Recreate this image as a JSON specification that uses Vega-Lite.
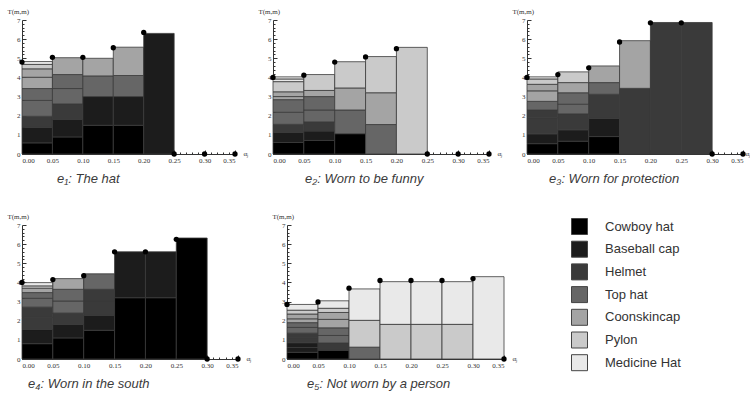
{
  "$schema": "https://vega.github.io/schema/vega-lite/v6.json",
  "padding": {"left": 7, "top": 7, "right": 0, "bottom": 0},
  "background": "white",
  "config": {
    "view": {"stroke": null},
    "axis": {"grid": false, "labelFont": "Liberation Serif", "labelFontSize": 7, "labelColor": "#333", "domainColor": "#333", "tickColor": "#333", "titleFont": "Liberation Serif", "titleFontSize": 7, "titleFontWeight": "normal", "titleColor": "#333", "labelPadding": 6},
    "title": {"orient": "bottom", "anchor": "start", "font": "Liberation Sans", "fontSize": 13, "fontStyle": "italic", "fontWeight": "normal", "color": "#3a3a3a", "offset": 10},
    "legend": {"orient": "none", "legendX": 549, "legendY": 198, "title": null, "symbolType": "square", "symbolSize": 256, "symbolStrokeColor": "#444", "symbolStrokeWidth": 1, "labelFont": "Liberation Sans", "labelFontSize": 13, "labelColor": "#333", "rowPadding": 1.7, "labelOffset": 17, "padding": 0}
  },
  "datasets": {
    "bars": [
      {"p":1,"x0":0,"x1":0.05,"y0":0,"y1":0.58,"hat":"Cowboy hat"},
      {"p":1,"x0":0,"x1":0.05,"y0":0.58,"y1":1.4,"hat":"Baseball cap"},
      {"p":1,"x0":0,"x1":0.05,"y0":1.4,"y1":1.97,"hat":"Helmet"},
      {"p":1,"x0":0,"x1":0.05,"y0":1.97,"y1":2.8,"hat":"Top hat"},
      {"p":1,"x0":0,"x1":0.05,"y0":2.8,"y1":3.42,"hat":"Top hat"},
      {"p":1,"x0":0,"x1":0.05,"y0":3.42,"y1":4.01,"hat":"Coonskincap"},
      {"p":1,"x0":0,"x1":0.05,"y0":4.01,"y1":4.45,"hat":"Coonskincap"},
      {"p":1,"x0":0,"x1":0.05,"y0":4.45,"y1":4.68,"hat":"Pylon"},
      {"p":1,"x0":0,"x1":0.05,"y0":4.68,"y1":4.83,"hat":"Medicine Hat"},
      {"p":1,"x0":0.05,"x1":0.1,"y0":0,"y1":0.89,"hat":"Cowboy hat"},
      {"p":1,"x0":0.05,"x1":0.1,"y0":0.89,"y1":1.8,"hat":"Baseball cap"},
      {"p":1,"x0":0.05,"x1":0.1,"y0":1.8,"y1":2.62,"hat":"Helmet"},
      {"p":1,"x0":0.05,"x1":0.1,"y0":2.62,"y1":3.42,"hat":"Top hat"},
      {"p":1,"x0":0.05,"x1":0.1,"y0":3.42,"y1":4.15,"hat":"Top hat"},
      {"p":1,"x0":0.05,"x1":0.1,"y0":4.15,"y1":5.03,"hat":"Coonskincap"},
      {"p":1,"x0":0.1,"x1":0.15,"y0":0,"y1":1.5,"hat":"Cowboy hat"},
      {"p":1,"x0":0.1,"x1":0.15,"y0":1.5,"y1":3.0,"hat":"Baseball cap"},
      {"p":1,"x0":0.1,"x1":0.15,"y0":3.0,"y1":4.08,"hat":"Top hat"},
      {"p":1,"x0":0.1,"x1":0.15,"y0":4.08,"y1":5.0,"hat":"Coonskincap"},
      {"p":1,"x0":0.15,"x1":0.2,"y0":0,"y1":1.5,"hat":"Cowboy hat"},
      {"p":1,"x0":0.15,"x1":0.2,"y0":1.5,"y1":3.0,"hat":"Baseball cap"},
      {"p":1,"x0":0.15,"x1":0.2,"y0":3.0,"y1":4.1,"hat":"Top hat"},
      {"p":1,"x0":0.15,"x1":0.2,"y0":4.1,"y1":5.58,"hat":"Coonskincap"},
      {"p":1,"x0":0.2,"x1":0.25,"y0":0,"y1":6.3,"hat":"Baseball cap"},

      {"p":2,"x0":0,"x1":0.05,"y0":0,"y1":0.6,"hat":"Cowboy hat"},
      {"p":2,"x0":0,"x1":0.05,"y0":0.6,"y1":1.12,"hat":"Baseball cap"},
      {"p":2,"x0":0,"x1":0.05,"y0":1.12,"y1":1.55,"hat":"Helmet"},
      {"p":2,"x0":0,"x1":0.05,"y0":1.55,"y1":2.18,"hat":"Top hat"},
      {"p":2,"x0":0,"x1":0.05,"y0":2.18,"y1":2.84,"hat":"Top hat"},
      {"p":2,"x0":0,"x1":0.05,"y0":2.84,"y1":3.0,"hat":"Coonskincap"},
      {"p":2,"x0":0,"x1":0.05,"y0":3.0,"y1":3.25,"hat":"Coonskincap"},
      {"p":2,"x0":0,"x1":0.05,"y0":3.25,"y1":3.78,"hat":"Pylon"},
      {"p":2,"x0":0,"x1":0.05,"y0":3.78,"y1":3.92,"hat":"Medicine Hat"},
      {"p":2,"x0":0,"x1":0.05,"y0":3.92,"y1":4.03,"hat":"Medicine Hat"},
      {"p":2,"x0":0.05,"x1":0.1,"y0":0,"y1":0.71,"hat":"Cowboy hat"},
      {"p":2,"x0":0.05,"x1":0.1,"y0":0.71,"y1":1.2,"hat":"Baseball cap"},
      {"p":2,"x0":0.05,"x1":0.1,"y0":1.2,"y1":1.68,"hat":"Helmet"},
      {"p":2,"x0":0.05,"x1":0.1,"y0":1.68,"y1":2.3,"hat":"Top hat"},
      {"p":2,"x0":0.05,"x1":0.1,"y0":2.3,"y1":3.0,"hat":"Top hat"},
      {"p":2,"x0":0.05,"x1":0.1,"y0":3.0,"y1":3.32,"hat":"Coonskincap"},
      {"p":2,"x0":0.05,"x1":0.1,"y0":3.32,"y1":4.15,"hat":"Pylon"},
      {"p":2,"x0":0.1,"x1":0.15,"y0":0,"y1":1.06,"hat":"Cowboy hat"},
      {"p":2,"x0":0.1,"x1":0.15,"y0":1.06,"y1":2.3,"hat":"Top hat"},
      {"p":2,"x0":0.1,"x1":0.15,"y0":2.3,"y1":3.45,"hat":"Coonskincap"},
      {"p":2,"x0":0.1,"x1":0.15,"y0":3.45,"y1":4.82,"hat":"Pylon"},
      {"p":2,"x0":0.15,"x1":0.2,"y0":0,"y1":1.54,"hat":"Top hat"},
      {"p":2,"x0":0.15,"x1":0.2,"y0":1.54,"y1":3.2,"hat":"Coonskincap"},
      {"p":2,"x0":0.15,"x1":0.2,"y0":3.2,"y1":5.09,"hat":"Pylon"},
      {"p":2,"x0":0.2,"x1":0.25,"y0":0,"y1":5.57,"hat":"Pylon"},

      {"p":3,"x0":0,"x1":0.05,"y0":0,"y1":0.54,"hat":"Cowboy hat"},
      {"p":3,"x0":0,"x1":0.05,"y0":0.54,"y1":1.05,"hat":"Baseball cap"},
      {"p":3,"x0":0,"x1":0.05,"y0":1.05,"y1":1.9,"hat":"Helmet"},
      {"p":3,"x0":0,"x1":0.05,"y0":1.9,"y1":2.3,"hat":"Helmet"},
      {"p":3,"x0":0,"x1":0.05,"y0":2.3,"y1":2.75,"hat":"Top hat"},
      {"p":3,"x0":0,"x1":0.05,"y0":2.75,"y1":3.3,"hat":"Coonskincap"},
      {"p":3,"x0":0,"x1":0.05,"y0":3.3,"y1":3.64,"hat":"Coonskincap"},
      {"p":3,"x0":0,"x1":0.05,"y0":3.64,"y1":3.92,"hat":"Pylon"},
      {"p":3,"x0":0,"x1":0.05,"y0":3.92,"y1":4.03,"hat":"Medicine Hat"},
      {"p":3,"x0":0.05,"x1":0.1,"y0":0,"y1":0.67,"hat":"Cowboy hat"},
      {"p":3,"x0":0.05,"x1":0.1,"y0":0.67,"y1":1.26,"hat":"Baseball cap"},
      {"p":3,"x0":0.05,"x1":0.1,"y0":1.26,"y1":2.1,"hat":"Helmet"},
      {"p":3,"x0":0.05,"x1":0.1,"y0":2.1,"y1":2.6,"hat":"Top hat"},
      {"p":3,"x0":0.05,"x1":0.1,"y0":2.6,"y1":3.2,"hat":"Top hat"},
      {"p":3,"x0":0.05,"x1":0.1,"y0":3.2,"y1":3.73,"hat":"Coonskincap"},
      {"p":3,"x0":0.05,"x1":0.1,"y0":3.73,"y1":4.29,"hat":"Pylon"},
      {"p":3,"x0":0.1,"x1":0.15,"y0":0,"y1":0.91,"hat":"Cowboy hat"},
      {"p":3,"x0":0.1,"x1":0.15,"y0":0.91,"y1":1.87,"hat":"Baseball cap"},
      {"p":3,"x0":0.1,"x1":0.15,"y0":1.87,"y1":3.12,"hat":"Helmet"},
      {"p":3,"x0":0.1,"x1":0.15,"y0":3.12,"y1":3.73,"hat":"Top hat"},
      {"p":3,"x0":0.1,"x1":0.15,"y0":3.73,"y1":4.6,"hat":"Coonskincap"},
      {"p":3,"x0":0.15,"x1":0.2,"y0":0,"y1":3.43,"hat":"Helmet"},
      {"p":3,"x0":0.15,"x1":0.2,"y0":3.43,"y1":5.92,"hat":"Coonskincap"},
      {"p":3,"x0":0.2,"x1":0.25,"y0":0,"y1":6.87,"hat":"Helmet"},
      {"p":3,"x0":0.25,"x1":0.3,"y0":0,"y1":6.87,"hat":"Helmet"},

      {"p":4,"x0":0,"x1":0.05,"y0":0,"y1":0.8,"hat":"Cowboy hat"},
      {"p":4,"x0":0,"x1":0.05,"y0":0.8,"y1":1.54,"hat":"Baseball cap"},
      {"p":4,"x0":0,"x1":0.05,"y0":1.54,"y1":2.17,"hat":"Helmet"},
      {"p":4,"x0":0,"x1":0.05,"y0":2.17,"y1":2.71,"hat":"Helmet"},
      {"p":4,"x0":0,"x1":0.05,"y0":2.71,"y1":3.17,"hat":"Top hat"},
      {"p":4,"x0":0,"x1":0.05,"y0":3.17,"y1":3.47,"hat":"Top hat"},
      {"p":4,"x0":0,"x1":0.05,"y0":3.47,"y1":3.7,"hat":"Coonskincap"},
      {"p":4,"x0":0,"x1":0.05,"y0":3.7,"y1":3.82,"hat":"Pylon"},
      {"p":4,"x0":0,"x1":0.05,"y0":3.82,"y1":3.99,"hat":"Medicine Hat"},
      {"p":4,"x0":0.05,"x1":0.1,"y0":0,"y1":1.1,"hat":"Cowboy hat"},
      {"p":4,"x0":0.05,"x1":0.1,"y0":1.1,"y1":1.8,"hat":"Baseball cap"},
      {"p":4,"x0":0.05,"x1":0.1,"y0":1.8,"y1":2.4,"hat":"Helmet"},
      {"p":4,"x0":0.05,"x1":0.1,"y0":2.4,"y1":3.03,"hat":"Top hat"},
      {"p":4,"x0":0.05,"x1":0.1,"y0":3.03,"y1":3.64,"hat":"Top hat"},
      {"p":4,"x0":0.05,"x1":0.1,"y0":3.64,"y1":4.2,"hat":"Coonskincap"},
      {"p":4,"x0":0.1,"x1":0.15,"y0":0,"y1":1.5,"hat":"Cowboy hat"},
      {"p":4,"x0":0.1,"x1":0.15,"y0":1.5,"y1":2.28,"hat":"Baseball cap"},
      {"p":4,"x0":0.1,"x1":0.15,"y0":2.28,"y1":3.03,"hat":"Helmet"},
      {"p":4,"x0":0.1,"x1":0.15,"y0":3.03,"y1":3.64,"hat":"Helmet"},
      {"p":4,"x0":0.1,"x1":0.15,"y0":3.64,"y1":4.45,"hat":"Top hat"},
      {"p":4,"x0":0.15,"x1":0.2,"y0":0,"y1":3.2,"hat":"Cowboy hat"},
      {"p":4,"x0":0.15,"x1":0.2,"y0":3.2,"y1":5.6,"hat":"Baseball cap"},
      {"p":4,"x0":0.2,"x1":0.25,"y0":0,"y1":3.2,"hat":"Cowboy hat"},
      {"p":4,"x0":0.2,"x1":0.25,"y0":3.2,"y1":5.6,"hat":"Baseball cap"},
      {"p":4,"x0":0.25,"x1":0.3,"y0":0,"y1":6.32,"hat":"Cowboy hat"},

      {"p":5,"x0":0,"x1":0.05,"y0":0,"y1":0.35,"hat":"Cowboy hat"},
      {"p":5,"x0":0,"x1":0.05,"y0":0.35,"y1":0.6,"hat":"Baseball cap"},
      {"p":5,"x0":0,"x1":0.05,"y0":0.6,"y1":0.85,"hat":"Baseball cap"},
      {"p":5,"x0":0,"x1":0.05,"y0":0.85,"y1":1.1,"hat":"Helmet"},
      {"p":5,"x0":0,"x1":0.05,"y0":1.1,"y1":1.35,"hat":"Helmet"},
      {"p":5,"x0":0,"x1":0.05,"y0":1.35,"y1":1.65,"hat":"Top hat"},
      {"p":5,"x0":0,"x1":0.05,"y0":1.65,"y1":1.9,"hat":"Top hat"},
      {"p":5,"x0":0,"x1":0.05,"y0":1.9,"y1":2.1,"hat":"Coonskincap"},
      {"p":5,"x0":0,"x1":0.05,"y0":2.1,"y1":2.35,"hat":"Coonskincap"},
      {"p":5,"x0":0,"x1":0.05,"y0":2.35,"y1":2.55,"hat":"Pylon"},
      {"p":5,"x0":0,"x1":0.05,"y0":2.55,"y1":2.85,"hat":"Medicine Hat"},
      {"p":5,"x0":0.05,"x1":0.1,"y0":0,"y1":0.46,"hat":"Cowboy hat"},
      {"p":5,"x0":0.05,"x1":0.1,"y0":0.46,"y1":0.84,"hat":"Helmet"},
      {"p":5,"x0":0.05,"x1":0.1,"y0":0.84,"y1":1.23,"hat":"Top hat"},
      {"p":5,"x0":0.05,"x1":0.1,"y0":1.23,"y1":1.63,"hat":"Top hat"},
      {"p":5,"x0":0.05,"x1":0.1,"y0":1.63,"y1":2.07,"hat":"Coonskincap"},
      {"p":5,"x0":0.05,"x1":0.1,"y0":2.07,"y1":2.43,"hat":"Coonskincap"},
      {"p":5,"x0":0.05,"x1":0.1,"y0":2.43,"y1":2.65,"hat":"Pylon"},
      {"p":5,"x0":0.05,"x1":0.1,"y0":2.65,"y1":3.04,"hat":"Medicine Hat"},
      {"p":5,"x0":0.1,"x1":0.15,"y0":0,"y1":0.62,"hat":"Top hat"},
      {"p":5,"x0":0.1,"x1":0.15,"y0":0.62,"y1":2.02,"hat":"Pylon"},
      {"p":5,"x0":0.1,"x1":0.15,"y0":2.02,"y1":3.66,"hat":"Medicine Hat"},
      {"p":5,"x0":0.15,"x1":0.2,"y0":0,"y1":1.81,"hat":"Pylon"},
      {"p":5,"x0":0.15,"x1":0.2,"y0":1.81,"y1":4.04,"hat":"Medicine Hat"},
      {"p":5,"x0":0.2,"x1":0.25,"y0":0,"y1":1.81,"hat":"Pylon"},
      {"p":5,"x0":0.2,"x1":0.25,"y0":1.81,"y1":4.04,"hat":"Medicine Hat"},
      {"p":5,"x0":0.25,"x1":0.3,"y0":0,"y1":1.81,"hat":"Pylon"},
      {"p":5,"x0":0.25,"x1":0.3,"y0":1.81,"y1":4.04,"hat":"Medicine Hat"},
      {"p":5,"x0":0.3,"x1":0.35,"y0":0,"y1":4.3,"hat":"Medicine Hat"}
    ],
    "pts": [
      {"p":1,"x0":0,"y0":4.8},{"p":1,"x0":0.05,"y0":5.05},{"p":1,"x0":0.1,"y0":5.05},{"p":1,"x0":0.15,"y0":5.55},{"p":1,"x0":0.2,"y0":6.35},{"p":1,"x0":0.25,"y0":0},{"p":1,"x0":0.3,"y0":0},{"p":1,"x0":0.35,"y0":0},
      {"p":2,"x0":0,"y0":4.0},{"p":2,"x0":0.05,"y0":4.12},{"p":2,"x0":0.1,"y0":4.8},{"p":2,"x0":0.15,"y0":5.07},{"p":2,"x0":0.2,"y0":5.5},{"p":2,"x0":0.25,"y0":0},{"p":2,"x0":0.3,"y0":0},{"p":2,"x0":0.35,"y0":0},
      {"p":3,"x0":0,"y0":4.0},{"p":3,"x0":0.05,"y0":4.15},{"p":3,"x0":0.1,"y0":4.5},{"p":3,"x0":0.15,"y0":5.85},{"p":3,"x0":0.2,"y0":6.85},{"p":3,"x0":0.25,"y0":6.85},{"p":3,"x0":0.3,"y0":0},{"p":3,"x0":0.35,"y0":0},
      {"p":4,"x0":0,"y0":4.0},{"p":4,"x0":0.05,"y0":4.15},{"p":4,"x0":0.1,"y0":4.35},{"p":4,"x0":0.15,"y0":5.6},{"p":4,"x0":0.2,"y0":5.6},{"p":4,"x0":0.25,"y0":6.25},{"p":4,"x0":0.3,"y0":0},{"p":4,"x0":0.35,"y0":0},
      {"p":5,"x0":0,"y0":2.85},{"p":5,"x0":0.05,"y0":2.98},{"p":5,"x0":0.1,"y0":3.7},{"p":5,"x0":0.15,"y0":4.1},{"p":5,"x0":0.2,"y0":4.1},{"p":5,"x0":0.25,"y0":4.1},{"p":5,"x0":0.3,"y0":4.2},{"p":5,"x0":0.35,"y0":0}
    ]
  },
  "resolve": {"scale": {"color": "shared"}, "legend": {"color": "shared"}},
  "spacing": 26,
  "vconcat": [
    {
      "spacing": 10,
      "hconcat": [
        {
          "width": 213, "height": 134,
          "title": {"text": "e₁: The hat", "dx": 50},
          "encoding": {
            "x": {"field": "x0", "type": "quantitative", "scale": {"domain": [0, 0.35], "nice": false},
                  "axis": {"values": [0,0.01,0.02,0.03,0.04,0.05,0.06,0.07,0.08,0.09,0.1,0.11,0.12,0.13,0.14,0.15,0.16,0.17,0.18,0.19,0.2,0.21,0.22,0.23,0.24,0.25,0.26,0.27,0.28,0.29,0.3,0.31,0.32,0.33,0.34,0.35],
                           "labelExpr": "round(datum.value*100) % 5 === 0 ? format(datum.value, '.2f') : ''",
                           "tickSize": {"condition": {"test": "round(datum.value*100) % 5 === 0", "value": -4}, "value": -2},
                           "title": "αⱼ", "titleX": 221, "titleY": -1, "titleAlign": "left", "titleBaseline": "middle"}},
            "y": {"field": "y0", "type": "quantitative", "scale": {"domain": [0, 7], "nice": false},
                  "axis": {"values": [0,0.2,0.4,0.6,0.8,1,1.2,1.4,1.6,1.8,2,2.2,2.4,2.6,2.8,3,3.2,3.4,3.6,3.8,4,4.2,4.4,4.6,4.8,5,5.2,5.4,5.6,5.8,6,6.2,6.4,6.6,6.8,7],
                           "labelExpr": "datum.value % 1 === 0 ? format(datum.value, 'd') : ''",
                           "tickSize": {"condition": {"test": "datum.value % 1 === 0", "value": -4}, "value": -2},
                           "title": "T(m,m)", "titleAngle": 0, "titleX": -15, "titleY": -9, "titleAlign": "left", "titleBaseline": "middle"}}
          },
          "layer": [
            {"data": {"name": "bars"}, "transform": [{"filter": "datum.p === 1"}],
             "mark": {"type": "rect", "stroke": "#3a3a3a", "strokeWidth": 0.8},
             "encoding": {"x2": {"field": "x1"}, "y2": {"field": "y1"},
               "color": {"field": "hat", "type": "nominal", "scale": {"domain": ["Cowboy hat","Baseball cap","Helmet","Top hat","Coonskincap","Pylon","Medicine Hat"], "range": ["#000000","#1c1c1c","#3a3a3a","#666666","#a4a4a4","#cacaca","#e9e9e9"]}}}},
            {"data": {"name": "pts"}, "transform": [{"filter": "datum.p === 1"}],
             "mark": {"type": "point", "filled": true, "color": "#000", "size": 28, "opacity": 1}}
          ]
        },
        {
          "width": 216, "height": 134,
          "title": {"text": "e₂: Worn to be funny", "dx": 47},
          "encoding": {
            "x": {"field": "x0", "type": "quantitative", "scale": {"domain": [0, 0.35], "nice": false},
                  "axis": {"values": [0,0.01,0.02,0.03,0.04,0.05,0.06,0.07,0.08,0.09,0.1,0.11,0.12,0.13,0.14,0.15,0.16,0.17,0.18,0.19,0.2,0.21,0.22,0.23,0.24,0.25,0.26,0.27,0.28,0.29,0.3,0.31,0.32,0.33,0.34,0.35],
                           "labelExpr": "round(datum.value*100) % 5 === 0 ? format(datum.value, '.2f') : ''",
                           "tickSize": {"condition": {"test": "round(datum.value*100) % 5 === 0", "value": -4}, "value": -2},
                           "title": "αⱼ", "titleX": 224, "titleY": -1, "titleAlign": "left", "titleBaseline": "middle"}},
            "y": {"field": "y0", "type": "quantitative", "scale": {"domain": [0, 7], "nice": false},
                  "axis": {"values": [0,0.2,0.4,0.6,0.8,1,1.2,1.4,1.6,1.8,2,2.2,2.4,2.6,2.8,3,3.2,3.4,3.6,3.8,4,4.2,4.4,4.6,4.8,5,5.2,5.4,5.6,5.8,6,6.2,6.4,6.6,6.8,7],
                           "labelExpr": "datum.value % 1 === 0 ? format(datum.value, 'd') : ''",
                           "tickSize": {"condition": {"test": "datum.value % 1 === 0", "value": -4}, "value": -2},
                           "title": "T(m,m)", "titleAngle": 0, "titleX": -15, "titleY": -9, "titleAlign": "left", "titleBaseline": "middle"}}
          },
          "layer": [
            {"data": {"name": "bars"}, "transform": [{"filter": "datum.p === 2"}],
             "mark": {"type": "rect", "stroke": "#3a3a3a", "strokeWidth": 0.8},
             "encoding": {"x2": {"field": "x1"}, "y2": {"field": "y1"},
               "color": {"field": "hat", "type": "nominal", "scale": {"domain": ["Cowboy hat","Baseball cap","Helmet","Top hat","Coonskincap","Pylon","Medicine Hat"], "range": ["#000000","#1c1c1c","#3a3a3a","#666666","#a4a4a4","#cacaca","#e9e9e9"]}}}},
            {"data": {"name": "pts"}, "transform": [{"filter": "datum.p === 2"}],
             "mark": {"type": "point", "filled": true, "color": "#000", "size": 28, "opacity": 1}}
          ]
        },
        {
          "width": 216, "height": 134,
          "title": {"text": "e₃: Worn for protection", "dx": 37},
          "encoding": {
            "x": {"field": "x0", "type": "quantitative", "scale": {"domain": [0, 0.35], "nice": false},
                  "axis": {"values": [0,0.01,0.02,0.03,0.04,0.05,0.06,0.07,0.08,0.09,0.1,0.11,0.12,0.13,0.14,0.15,0.16,0.17,0.18,0.19,0.2,0.21,0.22,0.23,0.24,0.25,0.26,0.27,0.28,0.29,0.3,0.31,0.32,0.33,0.34,0.35],
                           "labelExpr": "round(datum.value*100) % 5 === 0 ? format(datum.value, '.2f') : ''",
                           "tickSize": {"condition": {"test": "round(datum.value*100) % 5 === 0", "value": -4}, "value": -2},
                           "title": "αⱼ", "titleX": 218, "titleY": -1, "titleAlign": "left", "titleBaseline": "middle"}},
            "y": {"field": "y0", "type": "quantitative", "scale": {"domain": [0, 7], "nice": false},
                  "axis": {"values": [0,0.2,0.4,0.6,0.8,1,1.2,1.4,1.6,1.8,2,2.2,2.4,2.6,2.8,3,3.2,3.4,3.6,3.8,4,4.2,4.4,4.6,4.8,5,5.2,5.4,5.6,5.8,6,6.2,6.4,6.6,6.8,7],
                           "labelExpr": "datum.value % 1 === 0 ? format(datum.value, 'd') : ''",
                           "tickSize": {"condition": {"test": "datum.value % 1 === 0", "value": -4}, "value": -2},
                           "title": "T(m,m)", "titleAngle": 0, "titleX": -15, "titleY": -9, "titleAlign": "left", "titleBaseline": "middle"}}
          },
          "layer": [
            {"data": {"name": "bars"}, "transform": [{"filter": "datum.p === 3"}],
             "mark": {"type": "rect", "stroke": "#3a3a3a", "strokeWidth": 0.8},
             "encoding": {"x2": {"field": "x1"}, "y2": {"field": "y1"},
               "color": {"field": "hat", "type": "nominal", "scale": {"domain": ["Cowboy hat","Baseball cap","Helmet","Top hat","Coonskincap","Pylon","Medicine Hat"], "range": ["#000000","#1c1c1c","#3a3a3a","#666666","#a4a4a4","#cacaca","#e9e9e9"]}}}},
            {"data": {"name": "pts"}, "transform": [{"filter": "datum.p === 3"}],
             "mark": {"type": "point", "filled": true, "color": "#000", "size": 28, "opacity": 1}}
          ]
        }
      ]
    },
    {
      "spacing": 21,
      "hconcat": [
        {
          "width": 216, "height": 134,
          "title": {"text": "e₄: Worn in the south", "dx": 21},
          "encoding": {
            "x": {"field": "x0", "type": "quantitative", "scale": {"domain": [0, 0.35], "nice": false},
                  "axis": {"values": [0,0.01,0.02,0.03,0.04,0.05,0.06,0.07,0.08,0.09,0.1,0.11,0.12,0.13,0.14,0.15,0.16,0.17,0.18,0.19,0.2,0.21,0.22,0.23,0.24,0.25,0.26,0.27,0.28,0.29,0.3,0.31,0.32,0.33,0.34,0.35],
                           "labelExpr": "round(datum.value*100) % 5 === 0 ? format(datum.value, '.2f') : ''",
                           "tickSize": {"condition": {"test": "round(datum.value*100) % 5 === 0", "value": -4}, "value": -2},
                           "title": "αⱼ", "titleX": 224, "titleY": -1, "titleAlign": "left", "titleBaseline": "middle"}},
            "y": {"field": "y0", "type": "quantitative", "scale": {"domain": [0, 7], "nice": false},
                  "axis": {"values": [0,0.2,0.4,0.6,0.8,1,1.2,1.4,1.6,1.8,2,2.2,2.4,2.6,2.8,3,3.2,3.4,3.6,3.8,4,4.2,4.4,4.6,4.8,5,5.2,5.4,5.6,5.8,6,6.2,6.4,6.6,6.8,7],
                           "labelExpr": "datum.value % 1 === 0 ? format(datum.value, 'd') : ''",
                           "tickSize": {"condition": {"test": "datum.value % 1 === 0", "value": -4}, "value": -2},
                           "title": "T(m,m)", "titleAngle": 0, "titleX": -15, "titleY": -9, "titleAlign": "left", "titleBaseline": "middle"}}
          },
          "layer": [
            {"data": {"name": "bars"}, "transform": [{"filter": "datum.p === 4"}],
             "mark": {"type": "rect", "stroke": "#3a3a3a", "strokeWidth": 0.8},
             "encoding": {"x2": {"field": "x1"}, "y2": {"field": "y1"},
               "color": {"field": "hat", "type": "nominal", "scale": {"domain": ["Cowboy hat","Baseball cap","Helmet","Top hat","Coonskincap","Pylon","Medicine Hat"], "range": ["#000000","#1c1c1c","#3a3a3a","#666666","#a4a4a4","#cacaca","#e9e9e9"]}}}},
            {"data": {"name": "pts"}, "transform": [{"filter": "datum.p === 4"}],
             "mark": {"type": "point", "filled": true, "color": "#000", "size": 28, "opacity": 1}}
          ]
        },
        {
          "width": 217, "height": 134,
          "title": {"text": "e₅: Not worn by a person", "dx": 35},
          "encoding": {
            "x": {"field": "x0", "type": "quantitative", "scale": {"domain": [0, 0.35], "nice": false},
                  "axis": {"values": [0,0.01,0.02,0.03,0.04,0.05,0.06,0.07,0.08,0.09,0.1,0.11,0.12,0.13,0.14,0.15,0.16,0.17,0.18,0.19,0.2,0.21,0.22,0.23,0.24,0.25,0.26,0.27,0.28,0.29,0.3,0.31,0.32,0.33,0.34,0.35],
                           "labelExpr": "round(datum.value*100) % 5 === 0 ? format(datum.value, '.2f') : ''",
                           "tickSize": {"condition": {"test": "round(datum.value*100) % 5 === 0", "value": -4}, "value": -2},
                           "title": "αⱼ", "titleX": 225, "titleY": -1, "titleAlign": "left", "titleBaseline": "middle"}},
            "y": {"field": "y0", "type": "quantitative", "scale": {"domain": [0, 7], "nice": false},
                  "axis": {"values": [0,0.2,0.4,0.6,0.8,1,1.2,1.4,1.6,1.8,2,2.2,2.4,2.6,2.8,3,3.2,3.4,3.6,3.8,4,4.2,4.4,4.6,4.8,5,5.2,5.4,5.6,5.8,6,6.2,6.4,6.6,6.8,7],
                           "labelExpr": "datum.value % 1 === 0 ? format(datum.value, 'd') : ''",
                           "tickSize": {"condition": {"test": "datum.value % 1 === 0", "value": -4}, "value": -2},
                           "title": "T(m,m)", "titleAngle": 0, "titleX": -15, "titleY": -9, "titleAlign": "left", "titleBaseline": "middle"}}
          },
          "layer": [
            {"data": {"name": "bars"}, "transform": [{"filter": "datum.p === 5"}],
             "mark": {"type": "rect", "stroke": "#3a3a3a", "strokeWidth": 0.8},
             "encoding": {"x2": {"field": "x1"}, "y2": {"field": "y1"},
               "color": {"field": "hat", "type": "nominal", "scale": {"domain": ["Cowboy hat","Baseball cap","Helmet","Top hat","Coonskincap","Pylon","Medicine Hat"], "range": ["#000000","#1c1c1c","#3a3a3a","#666666","#a4a4a4","#cacaca","#e9e9e9"]}}}},
            {"data": {"name": "pts"}, "transform": [{"filter": "datum.p === 5"}],
             "mark": {"type": "point", "filled": true, "color": "#000", "size": 28, "opacity": 1}}
          ]
        }
      ]
    }
  ]
}
